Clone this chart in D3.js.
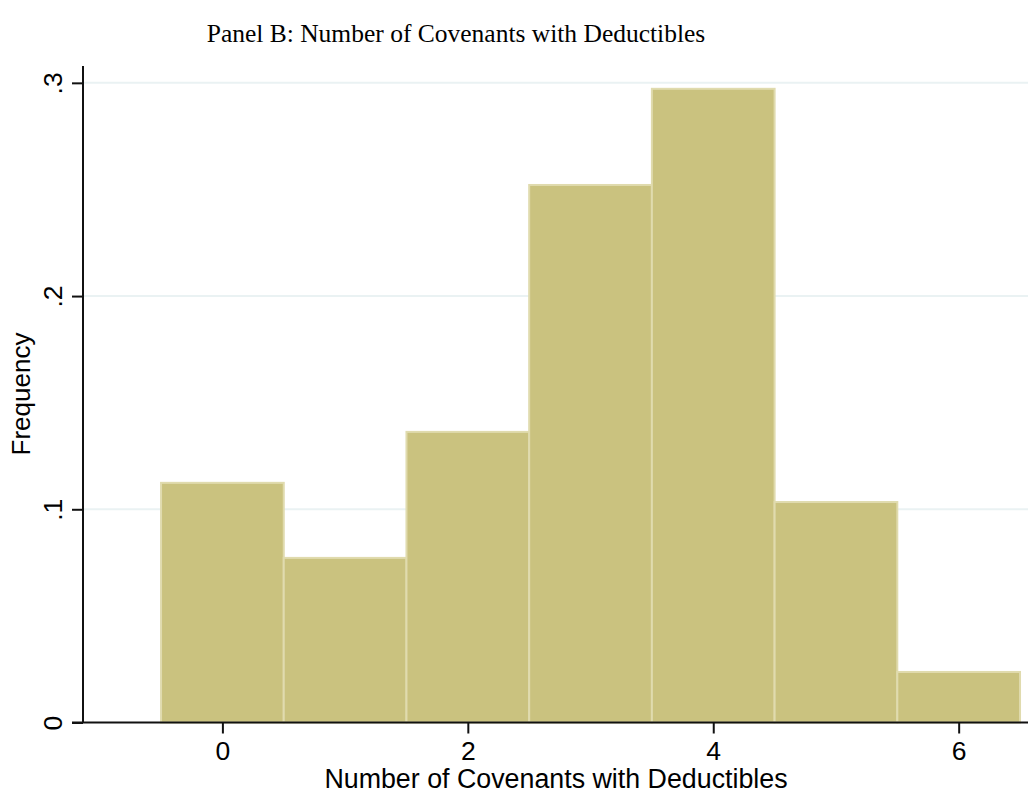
<!DOCTYPE html>
<html><head><meta charset="utf-8">
<script src="https://cdn.jsdelivr.net/npm/d3@7"></script>
<style>body{margin:0;background:#fff}svg{display:block}</style>
</head><body>
<script>
const categories = [0, 1, 2, 3, 4, 5, 6];
const frequencies = [0.1124, 0.0772, 0.1363, 0.2521, 0.2972, 0.1034, 0.0237];
const xTicks = [0, 2, 4, 6];
const yTicks = [0, 0.1, 0.2, 0.3];
const yTickLabels = ["0", ".1", ".2", ".3"];
const titleText = "Panel B: Number of Covenants with Deductibles";
const xLabel = "Number of Covenants with Deductibles";
const yLabel = "Frequency";

const W = 1028, H = 795;
const svg = d3.select("body").append("svg").attr("width", W).attr("height", H);

const x = d3.scaleLinear().domain([-1.136, 6.565]).range([83, 1028]);
const y = d3.scaleLinear().domain([0, 0.3079]).range([722.5, 66]);
const sans = "Liberation Sans, Arial, Helvetica, sans-serif";

// gridlines
svg.append("g").selectAll("line").data(yTicks.slice(1)).join("line")
  .attr("x1", x(-1.136)).attr("x2", 1028)
  .attr("y1", d => y(d)).attr("y2", d => y(d))
  .attr("stroke", "#eaf2f3").attr("stroke-width", 2);

// bars
svg.append("g").selectAll("rect").data(categories).join("rect")
  .attr("x", (d) => x(d - 0.5))
  .attr("width", x(1) - x(0))
  .attr("y", (d, i) => y(frequencies[i]))
  .attr("height", (d, i) => y(0) - y(frequencies[i]))
  .attr("fill", "#cac27f")
  .attr("stroke", "#e0dbae").attr("stroke-width", 2);

// axes
const xAxis = d3.axisBottom(x).tickValues(xTicks).tickSize(11).tickFormat(d3.format("d"));
const gx = svg.append("g").attr("transform", `translate(0,${y(0)})`).call(xAxis);
gx.select(".domain").attr("d", `M72,0H1028`).attr("stroke", "#111").attr("stroke-width", 2);
gx.selectAll(".tick line").attr("stroke", "#111").attr("stroke-width", 2);
gx.selectAll(".tick text").attr("font-family", sans).attr("font-size", 26.5).attr("fill", "#000")
  .attr("y", 37.5).attr("dy", null);

const yAxis = d3.axisLeft(y).tickValues(yTicks).tickSize(11).tickFormat((d, i) => yTickLabels[i]);
const gy = svg.append("g").attr("transform", `translate(${x(-1.136)},0)`).call(yAxis);
gy.select(".domain").attr("d", `M0,${y(0)}V66`).attr("stroke", "#111").attr("stroke-width", 2);
gy.selectAll(".tick line").attr("stroke", "#111").attr("stroke-width", 2);
gy.selectAll(".tick text")
  .attr("font-family", sans).attr("font-size", 26.5).attr("fill", "#000")
  .attr("x", null).attr("dy", null)
  .attr("transform", "translate(-21,0) rotate(-90)")
  .attr("text-anchor", "middle");

// title
svg.append("text").attr("x", 456).attr("y", 42).attr("text-anchor", "middle")
  .attr("font-family", "Liberation Serif, DejaVu Serif, serif").attr("font-size", 25.5)
  .attr("fill", "#000").text(titleText);

// axis titles
svg.append("text").attr("x", 556).attr("y", 788).attr("text-anchor", "middle")
  .attr("font-family", sans).attr("font-size", 26.8)
  .attr("fill", "#000").text(xLabel);
svg.append("text").attr("transform", `translate(30,394) rotate(-90)`).attr("text-anchor", "middle")
  .attr("font-family", sans).attr("font-size", 26)
  .attr("fill", "#000").text(yLabel);
</script>
</body></html>
